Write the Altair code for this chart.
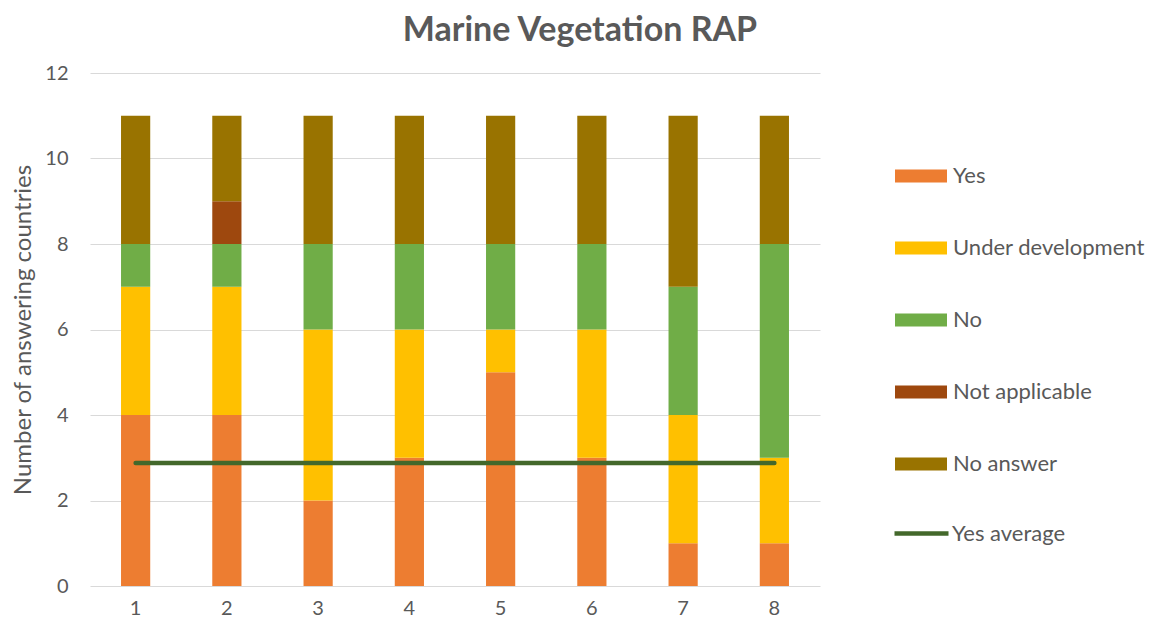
import altair as alt
import pandas as pd

categories = ["1", "2", "3", "4", "5", "6", "7", "8"]
yes = [4, 4, 2, 3, 5, 3, 1, 1]
under_development = [3, 3, 4, 3, 1, 3, 3, 2]
no = [1, 1, 2, 2, 2, 2, 3, 5]
not_applicable = [0, 1, 0, 0, 0, 0, 0, 0]
no_answer = [3, 2, 3, 3, 3, 3, 4, 3]
yes_average = [2.875, 2.875, 2.875, 2.875, 2.875, 2.875, 2.875, 2.875]

series_names = ["Yes", "Under development", "No", "Not applicable", "No answer"]
series_colors = ["#ED7D31", "#FFC000", "#70AD47", "#9E480E", "#997300"]
line_name = "Yes average"
line_color = "#43682B"
y_ticks = [0, 2, 4, 6, 8, 10, 12]

rows = []
for si, (name, vals) in enumerate(zip(series_names, [yes, under_development, no, not_applicable, no_answer])):
    for c, v in zip(categories, vals):
        rows.append({"cat": c, "series": name, "value": v, "order": si})
bars_df = pd.DataFrame(rows)
line_df = pd.DataFrame({"cat": categories, "value": yes_average, "series": [line_name] * len(categories)})

FONT = "Lato"
TXT = "#595959"

x_enc = alt.X(
    "cat:N", sort=categories,
    scale=alt.Scale(paddingInner=0.68, paddingOuter=0.34),
    axis=alt.Axis(title=None, labelAngle=0, ticks=False, domain=False, grid=False,
                  labelFontSize=20, labelColor=TXT, labelFont=FONT, labelPadding=12),
)
y_scale = alt.Scale(domain=[0, 12], nice=False)

bars = alt.Chart(bars_df).mark_bar().encode(
    x=x_enc,
    y=alt.Y("value:Q", stack="zero", scale=y_scale,
            axis=alt.Axis(title="Number of answering countries", values=y_ticks, ticks=False,
                          domain=False, grid=True, gridColor="#D9D9D9", gridWidth=1,
                          labelFontSize=20, labelColor=TXT, labelFont=FONT, labelPadding=22,
                          titleFontSize=24, titleFont=FONT, titleFontWeight="normal",
                          titleColor=TXT, titlePadding=9)),
    color=alt.Color("series:N", scale=alt.Scale(domain=series_names, range=series_colors),
                    legend=alt.Legend(title=None, orient="none", legendX=805, legendY=77,
                                      symbolType="M-1,-0.25L1,-0.25L1,0.25L-1,0.25Z",
                                      symbolSize=2704, symbolStrokeWidth=0, symbolOpacity=1,
                                      labelFontSize=22, labelFont=FONT, labelColor=TXT,
                                      labelLimit=0, labelOffset=6, rowPadding=35, padding=0)),
    order=alt.Order("order:Q"),
)

line = alt.Chart(line_df).mark_line(strokeWidth=4.5, strokeCap="round").encode(
    x=x_enc,
    y=alt.Y("value:Q", scale=y_scale),
    stroke=alt.Stroke("series:N", scale=alt.Scale(domain=[line_name], range=[line_color]),
                      legend=alt.Legend(title=None, orient="none", legendX=802, legendY=431,
                                        symbolType="stroke", symbolSize=2916,
                                        symbolStrokeWidth=4.5,
                                        labelFontSize=22, labelFont=FONT, labelColor=TXT,
                                        labelLimit=0, labelOffset=1, padding=0)),
)

chart = alt.layer(bars, line).properties(
    width=730, height=513,
    title=alt.Title("Marine Vegetation RAP", fontSize=34, font=FONT, fontWeight="bold",
                    color=TXT, anchor="middle", dx=125, offset=15),
    autosize=alt.AutoSizeParams(type="none"),
    padding={"left": 82, "top": 65, "right": 328, "bottom": 34},
).configure_view(stroke=None)

chart.save("out.html", embed_options={"renderer": "svg", "actions": False})
